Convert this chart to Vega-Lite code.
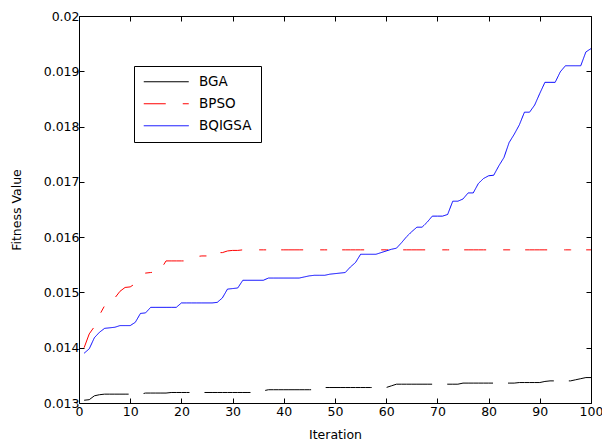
{
  "$schema": "https://vega.github.io/schema/vega-lite/v6.json",
  "width": 512,
  "height": 387,
  "autosize": {"type": "none"},
  "padding": {"left": 79, "top": 16, "right": 11, "bottom": 38},
  "background": "white",
  "config": {
    "view": {"stroke": "black", "strokeWidth": 1},
    "font": "DejaVu Sans",
    "axis": {
      "labelFont": "DejaVu Sans",
      "labelFontSize": 12.5,
      "labelColor": "black",
      "titleFont": "DejaVu Sans",
      "titleFontSize": 12.5,
      "titleFontWeight": "normal",
      "titleColor": "black",
      "domainColor": "black",
      "tickColor": "black",
      "grid": false
    },
    "legend": {
      "title": null,
      "orient": "none",
      "legendX": 55,
      "legendY": 50,
      "strokeColor": "black",
      "fillColor": "white",
      "padding": 9,
      "symbolType": "M-3.75,0H3.75",
      "symbolSize": 144,
      "symbolStrokeWidth": 1,
      "symbolOffset": 16.5,
      "labelFont": "DejaVu Sans",
      "labelFontSize": 13.5,
      "labelColor": "black",
      "rowPadding": 7,
      "labelOffset": 26,
      "cornerRadius": 0
    }
  },
  "data": {
    "values": [
      {"it": 1, "BGA": 0.01305, "BPSO": 0.0140, "BQIGSA": 0.0139},
      {"it": 2, "BGA": 0.01306, "BPSO": 0.01425, "BQIGSA": 0.01398},
      {"it": 3, "BGA": 0.01313, "BPSO": 0.01438, "BQIGSA": 0.01418},
      {"it": 4, "BGA": 0.01315, "BPSO": 0.01459, "BQIGSA": 0.01428},
      {"it": 5, "BGA": 0.01316, "BPSO": 0.01476, "BQIGSA": 0.01435},
      {"it": 6, "BGA": 0.01316, "BPSO": 0.01484, "BQIGSA": 0.01436},
      {"it": 7, "BGA": 0.01316, "BPSO": 0.0149, "BQIGSA": 0.01437},
      {"it": 8, "BGA": 0.01316, "BPSO": 0.01502, "BQIGSA": 0.0144},
      {"it": 9, "BGA": 0.01316, "BPSO": 0.01509, "BQIGSA": 0.0144},
      {"it": 10, "BGA": 0.01316, "BPSO": 0.0151, "BQIGSA": 0.0144},
      {"it": 11, "BGA": 0.01316, "BPSO": 0.01516, "BQIGSA": 0.01446},
      {"it": 12, "BGA": 0.01316, "BPSO": 0.01527, "BQIGSA": 0.01462},
      {"it": 13, "BGA": 0.01318, "BPSO": 0.01535, "BQIGSA": 0.01463},
      {"it": 14, "BGA": 0.01318, "BPSO": 0.01536, "BQIGSA": 0.01473},
      {"it": 15, "BGA": 0.01318, "BPSO": 0.01537, "BQIGSA": 0.01473},
      {"it": 16, "BGA": 0.01318, "BPSO": 0.01542, "BQIGSA": 0.01473},
      {"it": 17, "BGA": 0.01318, "BPSO": 0.01557, "BQIGSA": 0.01473},
      {"it": 18, "BGA": 0.01319, "BPSO": 0.01557, "BQIGSA": 0.01473},
      {"it": 19, "BGA": 0.01319, "BPSO": 0.01557, "BQIGSA": 0.01473},
      {"it": 20, "BGA": 0.01319, "BPSO": 0.01557, "BQIGSA": 0.01481},
      {"it": 21, "BGA": 0.01319, "BPSO": 0.01557, "BQIGSA": 0.01481},
      {"it": 22, "BGA": 0.01319, "BPSO": 0.01563, "BQIGSA": 0.01481},
      {"it": 23, "BGA": 0.01319, "BPSO": 0.01565, "BQIGSA": 0.01481},
      {"it": 24, "BGA": 0.01319, "BPSO": 0.01566, "BQIGSA": 0.01481},
      {"it": 25, "BGA": 0.01319, "BPSO": 0.01566, "BQIGSA": 0.01481},
      {"it": 26, "BGA": 0.01319, "BPSO": 0.01566, "BQIGSA": 0.01481},
      {"it": 27, "BGA": 0.01319, "BPSO": 0.01572, "BQIGSA": 0.01482},
      {"it": 28, "BGA": 0.01319, "BPSO": 0.01572, "BQIGSA": 0.0149},
      {"it": 29, "BGA": 0.01319, "BPSO": 0.01575, "BQIGSA": 0.01506},
      {"it": 30, "BGA": 0.01319, "BPSO": 0.01576, "BQIGSA": 0.01507},
      {"it": 31, "BGA": 0.01319, "BPSO": 0.01576, "BQIGSA": 0.01508},
      {"it": 32, "BGA": 0.01319, "BPSO": 0.01577, "BQIGSA": 0.01522},
      {"it": 33, "BGA": 0.01319, "BPSO": 0.01577, "BQIGSA": 0.01522},
      {"it": 34, "BGA": 0.01319, "BPSO": 0.01577, "BQIGSA": 0.01522},
      {"it": 35, "BGA": 0.01319, "BPSO": 0.01577, "BQIGSA": 0.01522},
      {"it": 36, "BGA": 0.01322, "BPSO": 0.01577, "BQIGSA": 0.01522},
      {"it": 37, "BGA": 0.01324, "BPSO": 0.01577, "BQIGSA": 0.01526},
      {"it": 38, "BGA": 0.01324, "BPSO": 0.01577, "BQIGSA": 0.01526},
      {"it": 39, "BGA": 0.01324, "BPSO": 0.01577, "BQIGSA": 0.01526},
      {"it": 40, "BGA": 0.01324, "BPSO": 0.01577, "BQIGSA": 0.01526},
      {"it": 41, "BGA": 0.01324, "BPSO": 0.01577, "BQIGSA": 0.01526},
      {"it": 42, "BGA": 0.01324, "BPSO": 0.01577, "BQIGSA": 0.01526},
      {"it": 43, "BGA": 0.01324, "BPSO": 0.01577, "BQIGSA": 0.01526},
      {"it": 44, "BGA": 0.01324, "BPSO": 0.01577, "BQIGSA": 0.01528},
      {"it": 45, "BGA": 0.01324, "BPSO": 0.01577, "BQIGSA": 0.0153},
      {"it": 46, "BGA": 0.01324, "BPSO": 0.01577, "BQIGSA": 0.01531},
      {"it": 47, "BGA": 0.01324, "BPSO": 0.01577, "BQIGSA": 0.01531},
      {"it": 48, "BGA": 0.01328, "BPSO": 0.01577, "BQIGSA": 0.01531},
      {"it": 49, "BGA": 0.01328, "BPSO": 0.01577, "BQIGSA": 0.01533},
      {"it": 50, "BGA": 0.01328, "BPSO": 0.01577, "BQIGSA": 0.01534},
      {"it": 51, "BGA": 0.01328, "BPSO": 0.01577, "BQIGSA": 0.01535},
      {"it": 52, "BGA": 0.01328, "BPSO": 0.01577, "BQIGSA": 0.01536},
      {"it": 53, "BGA": 0.01328, "BPSO": 0.01577, "BQIGSA": 0.01546},
      {"it": 54, "BGA": 0.01328, "BPSO": 0.01577, "BQIGSA": 0.01554},
      {"it": 55, "BGA": 0.01328, "BPSO": 0.01577, "BQIGSA": 0.01569},
      {"it": 56, "BGA": 0.01328, "BPSO": 0.01577, "BQIGSA": 0.01569},
      {"it": 57, "BGA": 0.01328, "BPSO": 0.01577, "BQIGSA": 0.01569},
      {"it": 58, "BGA": 0.01328, "BPSO": 0.01577, "BQIGSA": 0.01569},
      {"it": 59, "BGA": 0.01328, "BPSO": 0.01577, "BQIGSA": 0.01572},
      {"it": 60, "BGA": 0.01328, "BPSO": 0.01577, "BQIGSA": 0.01575},
      {"it": 61, "BGA": 0.01331, "BPSO": 0.01577, "BQIGSA": 0.01578},
      {"it": 62, "BGA": 0.01334, "BPSO": 0.01577, "BQIGSA": 0.0158},
      {"it": 63, "BGA": 0.01334, "BPSO": 0.01577, "BQIGSA": 0.0159},
      {"it": 64, "BGA": 0.01334, "BPSO": 0.01577, "BQIGSA": 0.01601},
      {"it": 65, "BGA": 0.01334, "BPSO": 0.01577, "BQIGSA": 0.0161},
      {"it": 66, "BGA": 0.01334, "BPSO": 0.01577, "BQIGSA": 0.01618},
      {"it": 67, "BGA": 0.01334, "BPSO": 0.01577, "BQIGSA": 0.01618},
      {"it": 68, "BGA": 0.01334, "BPSO": 0.01577, "BQIGSA": 0.01627},
      {"it": 69, "BGA": 0.01334, "BPSO": 0.01577, "BQIGSA": 0.01638},
      {"it": 70, "BGA": 0.01334, "BPSO": 0.01577, "BQIGSA": 0.01638},
      {"it": 71, "BGA": 0.01334, "BPSO": 0.01577, "BQIGSA": 0.01638},
      {"it": 72, "BGA": 0.01334, "BPSO": 0.01577, "BQIGSA": 0.01641},
      {"it": 73, "BGA": 0.01334, "BPSO": 0.01577, "BQIGSA": 0.01665},
      {"it": 74, "BGA": 0.01334, "BPSO": 0.01577, "BQIGSA": 0.01665},
      {"it": 75, "BGA": 0.01336, "BPSO": 0.01577, "BQIGSA": 0.01669},
      {"it": 76, "BGA": 0.01336, "BPSO": 0.01577, "BQIGSA": 0.0168},
      {"it": 77, "BGA": 0.01336, "BPSO": 0.01577, "BQIGSA": 0.0168},
      {"it": 78, "BGA": 0.01336, "BPSO": 0.01577, "BQIGSA": 0.01697},
      {"it": 79, "BGA": 0.01336, "BPSO": 0.01577, "BQIGSA": 0.01706},
      {"it": 80, "BGA": 0.01336, "BPSO": 0.01577, "BQIGSA": 0.01711},
      {"it": 81, "BGA": 0.01336, "BPSO": 0.01577, "BQIGSA": 0.01712},
      {"it": 82, "BGA": 0.01336, "BPSO": 0.01577, "BQIGSA": 0.01729},
      {"it": 83, "BGA": 0.01336, "BPSO": 0.01577, "BQIGSA": 0.01744},
      {"it": 84, "BGA": 0.01336, "BPSO": 0.01577, "BQIGSA": 0.01771},
      {"it": 85, "BGA": 0.01336, "BPSO": 0.01577, "BQIGSA": 0.01786},
      {"it": 86, "BGA": 0.01337, "BPSO": 0.01577, "BQIGSA": 0.01803},
      {"it": 87, "BGA": 0.01337, "BPSO": 0.01577, "BQIGSA": 0.01826},
      {"it": 88, "BGA": 0.01337, "BPSO": 0.01577, "BQIGSA": 0.01826},
      {"it": 89, "BGA": 0.01337, "BPSO": 0.01577, "BQIGSA": 0.01839},
      {"it": 90, "BGA": 0.01337, "BPSO": 0.01577, "BQIGSA": 0.0186},
      {"it": 91, "BGA": 0.01339, "BPSO": 0.01577, "BQIGSA": 0.0188},
      {"it": 92, "BGA": 0.0134, "BPSO": 0.01577, "BQIGSA": 0.0188},
      {"it": 93, "BGA": 0.0134, "BPSO": 0.01577, "BQIGSA": 0.0188},
      {"it": 94, "BGA": 0.0134, "BPSO": 0.01577, "BQIGSA": 0.01899},
      {"it": 95, "BGA": 0.0134, "BPSO": 0.01577, "BQIGSA": 0.0191},
      {"it": 96, "BGA": 0.0134, "BPSO": 0.01577, "BQIGSA": 0.0191},
      {"it": 97, "BGA": 0.01342, "BPSO": 0.01577, "BQIGSA": 0.0191},
      {"it": 98, "BGA": 0.01344, "BPSO": 0.01577, "BQIGSA": 0.0191},
      {"it": 99, "BGA": 0.01346, "BPSO": 0.01577, "BQIGSA": 0.01935},
      {"it": 100, "BGA": 0.01346, "BPSO": 0.01577, "BQIGSA": 0.01941}
    ]
  },
  "transform": [{"fold": ["BGA", "BPSO", "BQIGSA"], "as": ["series", "value"]}],
  "layer": [
    {
      "mark": {"type": "line", "strokeWidth": 1, "clip": true},
      "encoding": {
        "x": {
          "field": "it", "type": "quantitative",
          "scale": {"domain": [0, 100], "nice": false, "zero": false},
          "axis": {"title": "Iteration", "values": [0,10,20,30,40,50,60,70,80,90,100], "tickSize": -5, "labelPadding": 7, "titlePadding": 11, "domain": false, "labelFlush": false}
        },
        "y": {
          "field": "value", "type": "quantitative",
          "scale": {"domain": [0.013, 0.02], "nice": false, "zero": false},
          "axis": {"title": "Fitness Value", "values": [0.013,0.014,0.015,0.016,0.017,0.018,0.019,0.02], "format": "~g", "tickSize": -5, "labelPadding": 5, "titlePadding": 20, "domain": false}
        },
        "color": {
          "field": "series", "type": "nominal",
          "scale": {"domain": ["BGA", "BPSO", "BQIGSA"], "range": ["#000000", "#ff0000", "#0000ff"]}
        },
        "strokeDash": {
          "field": "series", "type": "nominal",
          "scale": {"domain": ["BGA", "BPSO", "BQIGSA"], "range": [[46, 15], [22, 17, 7, 15], [1, 0]]}
        }
      }
    },
    {
      "mark": {"type": "line", "opacity": 0},
      "encoding": {
        "x": {
          "field": "it", "type": "quantitative",
          "axis": {"orient": "top", "values": [0,10,20,30,40,50,60,70,80,90,100], "tickSize": -5, "labels": false, "title": null, "domain": false}
        },
        "y": {
          "field": "value", "type": "quantitative",
          "axis": {"orient": "right", "values": [0.013,0.014,0.015,0.016,0.017,0.018,0.019,0.02], "tickSize": -5, "labels": false, "title": null, "domain": false}
        },
        "detail": {"field": "series", "type": "nominal"}
      }
    }
  ],
  "resolve": {"axis": {"x": "independent", "y": "independent"}}
}
